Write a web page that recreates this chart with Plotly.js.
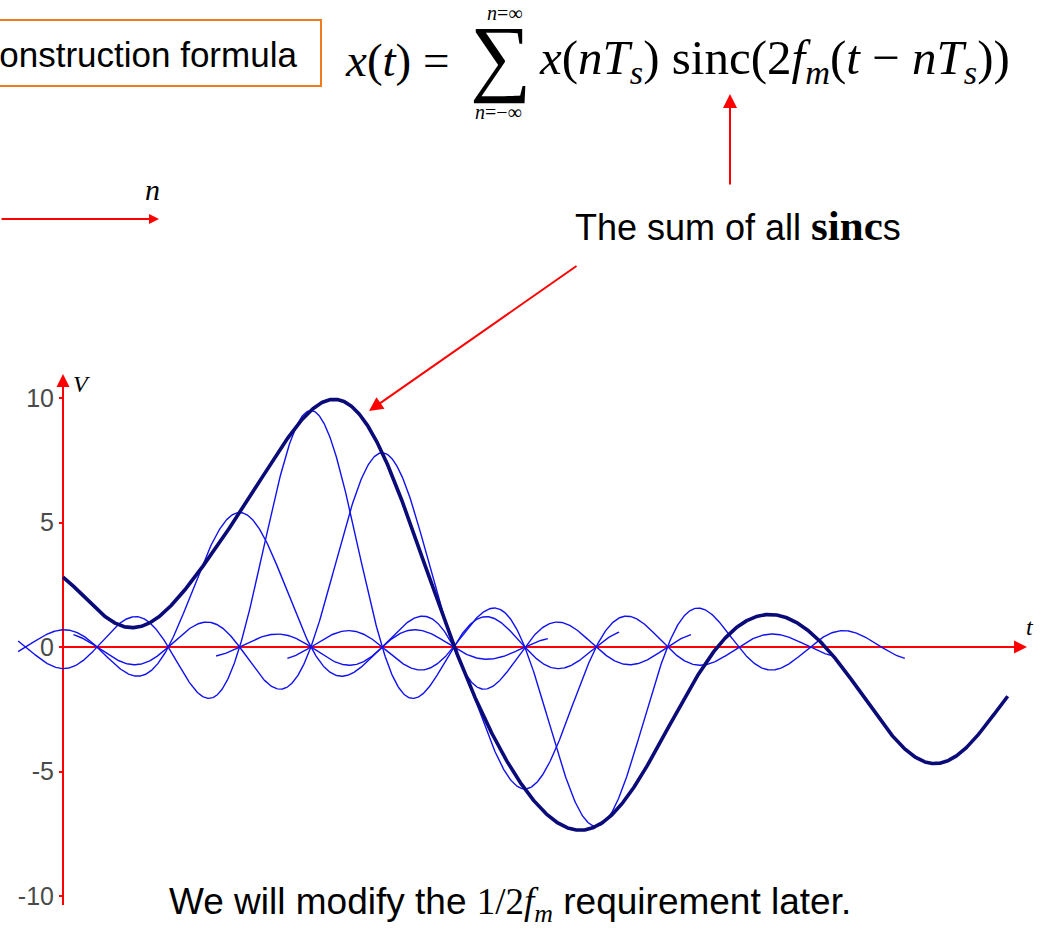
<!DOCTYPE html>
<html>
<head>
<meta charset="utf-8">
<script src="https://cdn.plot.ly/plotly-3.0.1.min.js"></script>
<style>
  html, body { margin: 0; padding: 0; background: #ffffff; }
  #chart { width: 1047px; height: 930px; }
</style>
</head>
<body>
<div id="chart"></div>
<script>
// Sample index n (instants nTs) and the sampled values x(nTs), in volts
const sampleIndex  = [-1, 0, 1, 2, 3, 4, 5, 6, 7, 8, 9, 10, 11, 12, 13];
const sampleValues = [3.1, 1.5, 1.55, 5.4, 9.5, 7.8, 0.1, -5.7, -7.2, -3.3, 0.85, 0.6, -3.0, -4.47, -1.2];
// Samples whose individual sinc pulses are drawn
const shownPulses = [2, 3, 4, 6, 7];
// Vertical axis ticks
const yTickValues = [-10, -5, 0, 5, 10];
const yTickLabels = ['-10', '-5', '0', '5', '10'];

// Time is measured in units of Ts; the first sample falls just after t = 0
const sampleOffset = 0.477;
const pulseHalfWidth = 4.33;   // each drawn pulse spans ±4.33 Ts
const pulseStart = -0.63;      // pulses are cut off at the left edge
const sumStart = 0, sumEnd = 13.25;
const step = 0.01;

function sinc(x) {
  if (Math.abs(x) < 1e-9) return 1;
  const a = Math.PI * x;
  return Math.sin(a) / a;
}
function sampleTime(n) { return n + sampleOffset; }

const traces = [];

// Individual weighted sinc pulses x(nTs)·sinc(t/Ts − n)
shownPulses.forEach(n => {
  const i = sampleIndex.indexOf(n);
  const tn = sampleTime(n);
  const xs = [], ys = [];
  for (let t = Math.max(tn - pulseHalfWidth, pulseStart); t <= tn + pulseHalfWidth + 1e-9; t += step) {
    xs.push(t);
    ys.push(sampleValues[i] * sinc(t - tn));
  }
  traces.push({
    x: xs, y: ys, type: 'scatter', mode: 'lines',
    line: { color: '#1010f0', width: 1.4 },
    hoverinfo: 'skip', showlegend: false
  });
});

// Reconstructed signal: sum of all the sinc pulses
const sumX = [], sumY = [];
for (let t = sumStart; t <= sumEnd + 1e-9; t += step) {
  let v = 0;
  sampleIndex.forEach((n, i) => { v += sampleValues[i] * sinc(t - sampleTime(n)); });
  sumX.push(t);
  sumY.push(v);
}
traces.push({
  x: sumX, y: sumY, type: 'scatter', mode: 'lines',
  line: { color: '#0a0a78', width: 3.6 },
  hoverinfo: 'skip', showlegend: false
});

// Page geometry (pixels)
const W = 1047, H = 930;
const plotTop = 375, plotBottom = 905;
const originX = 63, originY = 647;
const pxPerTs = 71.3, pxPerVolt = 24.9;

const X = px => px / W;                                  // page x -> paper
const Y = py => (plotBottom - py) / (plotBottom - plotTop); // page y -> paper
const tAt = px => (px - originX) / pxPerTs;
const vAt = py => (originY - py) / pxPerVolt;

const SANS = 'Arial, "Liberation Sans", sans-serif';
const SERIF = '"Times New Roman", "Liberation Serif", serif';
const RED = '#ff0000';

function label(px, py, text, font, xanchor) {
  return { x: X(px), y: Y(py), xref: 'paper', yref: 'paper',
           xanchor: xanchor || 'center', yanchor: 'middle',
           text: text, showarrow: false, font: font };
}
function arrow(px, py, dx, dy, size) {
  return { x: X(px), y: Y(py), xref: 'paper', yref: 'paper', ax: dx, ay: dy,
           text: '', showarrow: true, arrowhead: 2, arrowsize: size, arrowwidth: 2,
           arrowcolor: RED, standoff: 0 };
}

const annotations = [
  // Axis arrowheads
  { x: tAt(1027), y: 0, ax: tAt(1000), ay: 0, xref: 'x', yref: 'y', axref: 'x', ayref: 'y',
    text: '', showarrow: true, arrowhead: 2, arrowsize: 1.3, arrowwidth: 2, arrowcolor: RED, standoff: 0 },
  { x: 0, y: vAt(374), ax: 0, ay: vAt(400), xref: 'x', yref: 'y', axref: 'x', ayref: 'y',
    text: '', showarrow: true, arrowhead: 2, arrowsize: 1.3, arrowwidth: 2, arrowcolor: RED, standoff: 0 },
  // Axis names
  label(81, 384, '<i>V</i>', { family: SERIF, size: 24, color: '#000' }),
  label(1030, 627, '<i>t</i>', { family: SERIF, size: 24, color: '#000' }),
  label(152, 189, '<i>n</i>', { family: SERIF, size: 30, color: '#000' }),
  // Red n-axis stub at the upper left
  arrow(159, 219, -165, 0, 1),
  // Boxed heading, cut at the left edge
  label(299, 54, 'Reconstruction formula', { family: SANS, size: 35, color: '#000' }, 'right'),
  // Formula  x(t) = Σ x(nTs) sinc(2fm(t − nTs))
  label(343, 60, '<i>x</i>(<i>t</i>) =', { family: SERIF, size: 47, color: '#000' }, 'left'),
  label(500, 56, '\u2211', { family: SERIF, size: 86, color: '#000' }),
  label(505, 13, '<i>n</i>=\u221e', { family: SERIF, size: 20, color: '#000' }),
  label(498, 112, '<i>n</i>=\u2212\u221e', { family: SERIF, size: 20, color: '#000' }),
  label(537, 60,
    '<i>x</i>(<i>nT</i><sub><i>s</i></sub>) sinc(2<i>f</i><sub><i>m</i></sub>(<i>t</i> \u2212 <i>nT</i><sub><i>s</i></sub>))',
    { family: SERIF, size: 49, color: '#000' }, 'left'),
  // Arrow pointing at the sinc term
  arrow(730, 94, 0, 92, 1.4),
  // Caption for the summed curve and its arrow
  label(738, 225,
    'The sum of all <span style="font-family:Times New Roman, Liberation Serif, serif;font-size:43px"><b>sinc</b></span>s',
    { family: SANS, size: 36, color: '#000' }),
  arrow(369, 411, 209, -146, 1.4),
  // Footnote
  label(510, 904,
    'We will modify the <span style="font-family:Times New Roman, Liberation Serif, serif">1/2<i>f</i><sub><i>m</i></sub></span> requirement later.',
    { family: SANS, size: 37, color: '#000' })
];

const shapes = [
  // Heading box
  { type: 'rect', xref: 'paper', yref: 'paper', x0: X(-6), x1: X(321), y0: Y(86), y1: Y(20),
    line: { color: '#f07a1c', width: 2 }, fillcolor: '#ffffff', layer: 'below' },
  // Time axis and voltage axis lines
  { type: 'line', xref: 'x', yref: 'y', x0: tAt(61), x1: tAt(1012), y0: 0, y1: 0,
    line: { color: RED, width: 2 }, layer: 'below' },
  { type: 'line', xref: 'x', yref: 'y', x0: 0, x1: 0, y0: vAt(906), y1: vAt(385),
    line: { color: RED, width: 2 }, layer: 'below' }
];

const layout = {
  width: W, height: H,
  margin: { l: 0, r: 0, t: plotTop, b: H - plotBottom, pad: 0 },
  paper_bgcolor: '#ffffff', plot_bgcolor: 'rgba(0,0,0,0)',
  showlegend: false,
  xaxis: {
    range: [tAt(0), tAt(W)], visible: false, fixedrange: true
  },
  yaxis: {
    range: [vAt(plotBottom), vAt(plotTop)],
    anchor: 'free', position: X(originX),
    showline: false, showgrid: false, zeroline: false,
    tickmode: 'array', tickvals: yTickValues, ticktext: yTickLabels,
    ticks: 'outside', ticklen: 4, tickwidth: 2, tickcolor: RED,
    ticklabelstandoff: 0,
    tickfont: { family: SANS, size: 25, color: '#4a4a4a' },
    automargin: false, fixedrange: true
  },
  shapes: shapes,
  annotations: annotations
};

Plotly.newPlot('chart', traces, layout, { staticPlot: true, displayModeBar: false });
</script>
</body>
</html>
